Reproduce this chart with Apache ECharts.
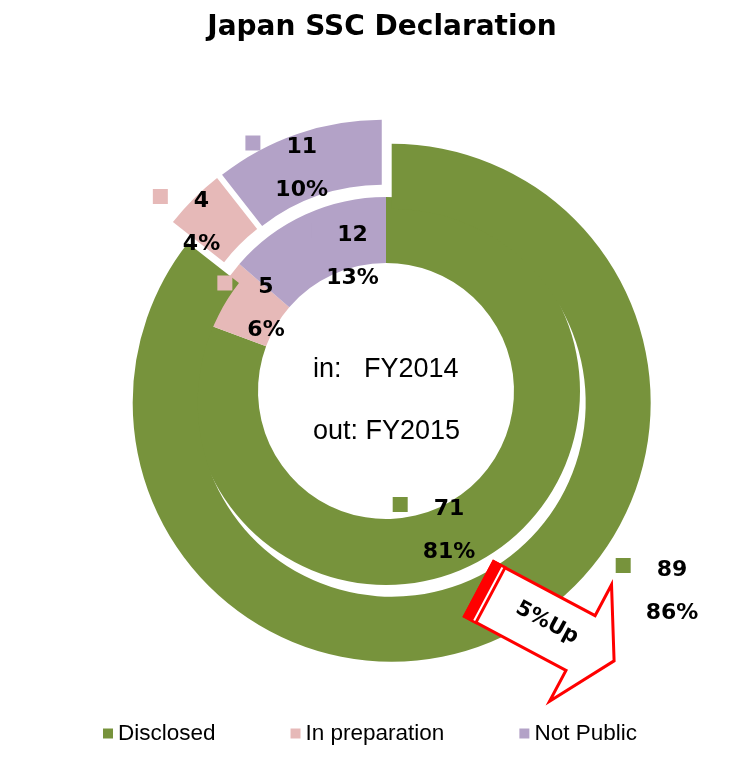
<!DOCTYPE html>
<html><head><meta charset="utf-8">
<script src="https://cdn.jsdelivr.net/npm/echarts@6/dist/echarts.min.js"></script>
<style>html,body{margin:0;padding:0;background:#fff}#c{width:734px;height:768px}</style>
</head><body><div id="c"></div>
<script>
// ---- data ----
const categories = ['Disclosed', 'In preparation', 'Not Public'];
const fy2014 = [71, 5, 12];        // inner ring values
const fy2015 = [89, 4, 11];        // outer ring values
const pct2014 = [81, 6, 13];       // percentages as printed
const pct2015 = [86, 4, 10];
const colors = ['#77933C', '#E6B9B8', '#B3A2C7'];
const titleText = 'Japan SSC Declaration';
const centerTexts = ['in:   FY2014', 'out: FY2015'];
const arrowText = '5%Up';

// ---- geometry / layout ----
const CX = 386, CY = 391;
const R = [128, 194, 259];
const innerLabelOffsets = [[63, 118], [-120, -103.5], [-33.5, -156]];
const outerLabelOffsets = [[286, 179], [-184.5, -190], [-84.3, -243.5]];

function makeLayout(offsets) {
  return function (params) {
    const o = offsets[params.dataIndex];
    return { x: CX + o[0], y: CY + o[1] - 12, align: 'center', verticalAlign: 'top' };
  };
}
function makeRich() {
  const txt = { fontFamily: 'DejaVu Sans', fontWeight: 'bold', fontSize: 22, color: '#000' };
  const r = {
    g: { width: 26, lineHeight: 24 },
    pad: { width: 15, lineHeight: 24 },
    v: Object.assign({ lineHeight: 24 }, txt),
    p: Object.assign({ lineHeight: 62 }, txt)
  };
  colors.forEach((c, i) => {
    r['sq' + i] = { width: 15, height: 15, backgroundColor: c, verticalAlign: 'top', lineHeight: 24 };
  });
  return r;
}
function labelCfg(pcts) {
  return {
    show: true, position: 'inside',
    formatter: p => '{sq' + p.dataIndex + '| }{g| }{v|' + p.value + '}{g| }{pad| }\n{p|' + pcts[p.dataIndex] + '%}',
    rich: makeRich(), lineHeight: 24
  };
}
function buildData(vals, sel, transparent) {
  return vals.map((v, i) => ({
    name: categories[i], value: v, selected: sel,
    itemStyle: { color: transparent ? 'rgba(0,0,0,0)' : colors[i], borderWidth: 0 }
  }));
}
const common = {
  type: 'pie', center: [CX, CY], startAngle: 90, clockwise: true,
  avoidLabelOverlap: false, emphasis: { disabled: true }, labelLine: { show: false }
};

const chart = echarts.init(document.getElementById('c'), null, { renderer: 'canvas' });
chart.setOption({
  animation: false,
  backgroundColor: '#fff',
  title: {
    text: titleText, left: 382, top: 12, textAlign: 'center', padding: 0,
    textStyle: { fontFamily: 'DejaVu Sans', fontWeight: 'bold', fontSize: 28, color: '#000', lineHeight: 32 }
  },
  legend: {
    data: categories, left: 103, top: 722, padding: 0, itemWidth: 10, itemHeight: 10, itemGap: 75,
    icon: 'rect', selectedMode: false,
    textStyle: { fontFamily: 'Liberation Sans', fontSize: 22.5, color: '#000' }
  },
  series: [
    Object.assign({}, common, {
      name: 'FY2014', radius: [R[0], R[1]], z: 2,
      label: labelCfg(pct2014), labelLayout: makeLayout(innerLabelOffsets),
      data: buildData(fy2014, false, false)
    }),
    Object.assign({}, common, {
      name: 'FY2015', radius: [R[1], R[2]], z: 2,
      selectedMode: 'multiple', selectedOffset: 13,
      label: { show: false },
      data: buildData(fy2015, true, false)
    }),
    Object.assign({}, common, {
      name: 'FY2015 labels', radius: [R[1], R[2]], z: 3, silent: true,
      label: labelCfg(pct2015), labelLayout: makeLayout(outerLabelOffsets),
      data: buildData(fy2015, false, true)
    })
  ],
  graphic: [
    { type: 'text', x: CX - 73, y: CY - 21, z: 50,
      style: { text: centerTexts[0], fontFamily: 'Liberation Sans', fontSize: 27, fill: '#000', align: 'left', verticalAlign: 'middle' } },
    { type: 'text', x: CX - 73, y: CY + 41, z: 50,
      style: { text: centerTexts[1], fontFamily: 'Liberation Sans', fontSize: 27, fill: '#000', align: 'left', verticalAlign: 'middle' } },
    { type: 'group', x: 479, y: 589, rotation: -28 * Math.PI / 180, z: 100,
      children: [
        { type: 'polygon', z: 100, shape: { points: [[0, -31], [115, -31], [115, -66], [153, 0], [115, 66], [115, 31], [0, 31]] },
          style: { fill: '#fff', stroke: '#FF0000', lineWidth: 3, lineJoin: 'miter' } },
        { type: 'rect', z: 101, shape: { x: -1.5, y: -32.5, width: 16, height: 65 }, style: { fill: '#FF0000' } },
        { type: 'line', z: 102, shape: { x1: 10.5, y1: -30, x2: 10.5, y2: 30 }, style: { stroke: '#fff', lineWidth: 2 } },
        { type: 'text', z: 103, x: 76, y: -2,
          style: { text: arrowText, fontFamily: 'DejaVu Sans', fontWeight: 'bold', fontSize: 21, fill: '#000', align: 'center', verticalAlign: 'middle' } }
      ] }
  ]
});
</script></body></html>
